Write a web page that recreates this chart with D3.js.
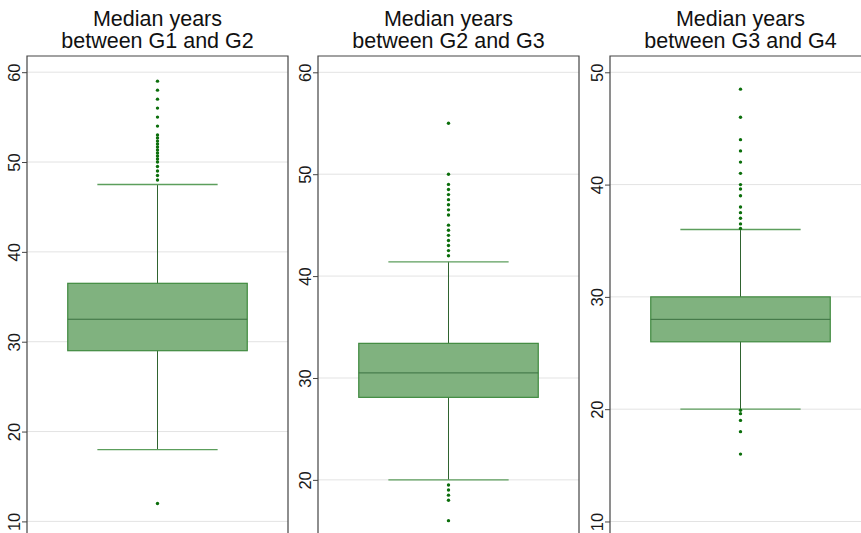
<!DOCTYPE html>
<html>
<head>
<meta charset="utf-8">
<script src="https://cdn.jsdelivr.net/npm/d3@7"></script>
<style>
  html, body { margin: 0; padding: 0; background: #fff; overflow: hidden; }
  svg { display: block; font-family: "Liberation Sans", Arial, sans-serif; }
</style>
</head>
<body>
<svg id="chart" width="861" height="533"></svg>
<script>
// Generation intervals: one box plot per pair of generations
const pairs = ["G1 and G2", "G2 and G3", "G3 and G4"];
const q1 = [29, 28.1, 26];
const medians = [32.5, 30.5, 28];
const q3 = [36.5, 33.4, 30];
const whiskerLow = [18, 20, 20];
const whiskerHigh = [47.5, 41.4, 36];

const outliersG1G2 = [59, 58, 57, 56, 55, 54, 53, 52.67, 52.33, 52, 51.67, 51.33, 51,
  50.67, 50.33, 50, 49.5, 49, 48.5, 48, 12];
const outliersG2G3 = [55, 50, 49, 48.5, 48, 47.5, 47, 46.5, 46, 45, 44.5, 44, 43.5, 43,
  42.5, 42, 19.5, 19, 18.5, 18, 16];
const outliersG3G4 = [48.5, 46, 44, 43, 42, 41, 40, 39.6, 39, 38, 37.5, 37, 36.5, 36.1,
  19.9, 19.6, 19, 18, 16];
const outliers = [outliersG1G2, outliersG2G3, outliersG3G4];

const ticksG1G2 = [10, 20, 30, 40, 50, 60];
const ticksG2G3 = [20, 30, 40, 50, 60];
const ticksG3G4 = [10, 20, 30, 40, 50];
const tickSets = [ticksG1G2, ticksG2G3, ticksG3G4];

// visible value range of each panel's y axis
const yDomains = [[7.93, 61.8], [14.1, 61.6], [8.35, 51.45]];

const svg = d3.select("#chart");
const panelLeft = [27, 318, 610];
const panelWidth = 261;
const plotTop = 56, plotBottom = 540;

const boxFill = "#80b27f";
const boxStroke = "#3f8a3f";
const whiskerColor = "#2f632f";
const capColor = "#5c9e5c";
const pointColor = "#0b6e0b";

pairs.forEach((pair, i) => {
  const g = svg.append("g").attr("transform", `translate(${panelLeft[i]},0)`);
  const y = d3.scaleLinear().domain(yDomains[i]).range([plotBottom, plotTop]);
  const x = d3.scaleBand().domain([pair]).range([0, panelWidth]).padding(0.185);
  const cx = x(pair) + x.bandwidth() / 2;
  const capHalf = x.bandwidth() * 0.335;

  // grid
  g.append("g").selectAll("line").data(tickSets[i]).join("line")
    .attr("x1", 0).attr("x2", panelWidth)
    .attr("y1", d => y(d)).attr("y2", d => y(d))
    .attr("stroke", "#e3e3e3").attr("stroke-width", 1);

  // left axis with rotated labels
  const axis = g.append("g").call(
    d3.axisLeft(y).tickValues(tickSets[i]).tickSize(5).tickPadding(6).tickFormat(d3.format("d"))
  );
  axis.select(".domain").remove();
  axis.selectAll(".tick line").attr("stroke", "#444");
  axis.selectAll(".tick text")
    .attr("font-size", 16.5)
    .attr("fill", "#1a1a1a")
    .attr("font-family", "'Liberation Sans', Arial, sans-serif")
    .attr("text-anchor", "middle")
    .attr("dy", 0)
    .attr("x", 0)
    .attr("transform", "translate(-7,0) rotate(-90)");

  // whisker stem
  g.append("line")
    .attr("x1", cx).attr("x2", cx)
    .attr("y1", y(whiskerLow[i])).attr("y2", y(whiskerHigh[i]))
    .attr("stroke", whiskerColor).attr("stroke-width", 1);

  // whisker caps
  g.selectAll(".cap").data([whiskerLow[i], whiskerHigh[i]]).join("line")
    .attr("class", "cap")
    .attr("x1", cx - capHalf).attr("x2", cx + capHalf)
    .attr("y1", d => y(d)).attr("y2", d => y(d))
    .attr("stroke", capColor).attr("stroke-width", 1.3);

  // box
  g.append("rect")
    .attr("x", x(pair)).attr("width", x.bandwidth())
    .attr("y", y(q3[i])).attr("height", y(q1[i]) - y(q3[i]))
    .attr("fill", boxFill).attr("stroke", boxStroke).attr("stroke-width", 1.2);

  // median
  g.append("line")
    .attr("x1", x(pair)).attr("x2", x(pair) + x.bandwidth())
    .attr("y1", y(medians[i])).attr("y2", y(medians[i]))
    .attr("stroke", "#3a7040").attr("stroke-width", 1);

  // outliers
  g.selectAll(".pt").data(outliers[i]).join("circle")
    .attr("class", "pt")
    .attr("cx", cx).attr("cy", d => y(d)).attr("r", 1.7)
    .attr("fill", pointColor);

  // frame: top, left, right
  g.append("path")
    .attr("d", `M0,${plotBottom}V${plotTop}H${panelWidth}V${plotBottom}`)
    .attr("fill", "none").attr("stroke", "#444").attr("stroke-width", 1.2);

  // title
  const title = g.append("text")
    .attr("x", panelWidth / 2).attr("text-anchor", "middle")
    .attr("font-size", 21.5).attr("fill", "#111");
  title.append("tspan").attr("x", panelWidth / 2).attr("y", 26).text("Median years");
  title.append("tspan").attr("x", panelWidth / 2).attr("y", 48).text(`between ${pair}`);
});
</script>
</body>
</html>
